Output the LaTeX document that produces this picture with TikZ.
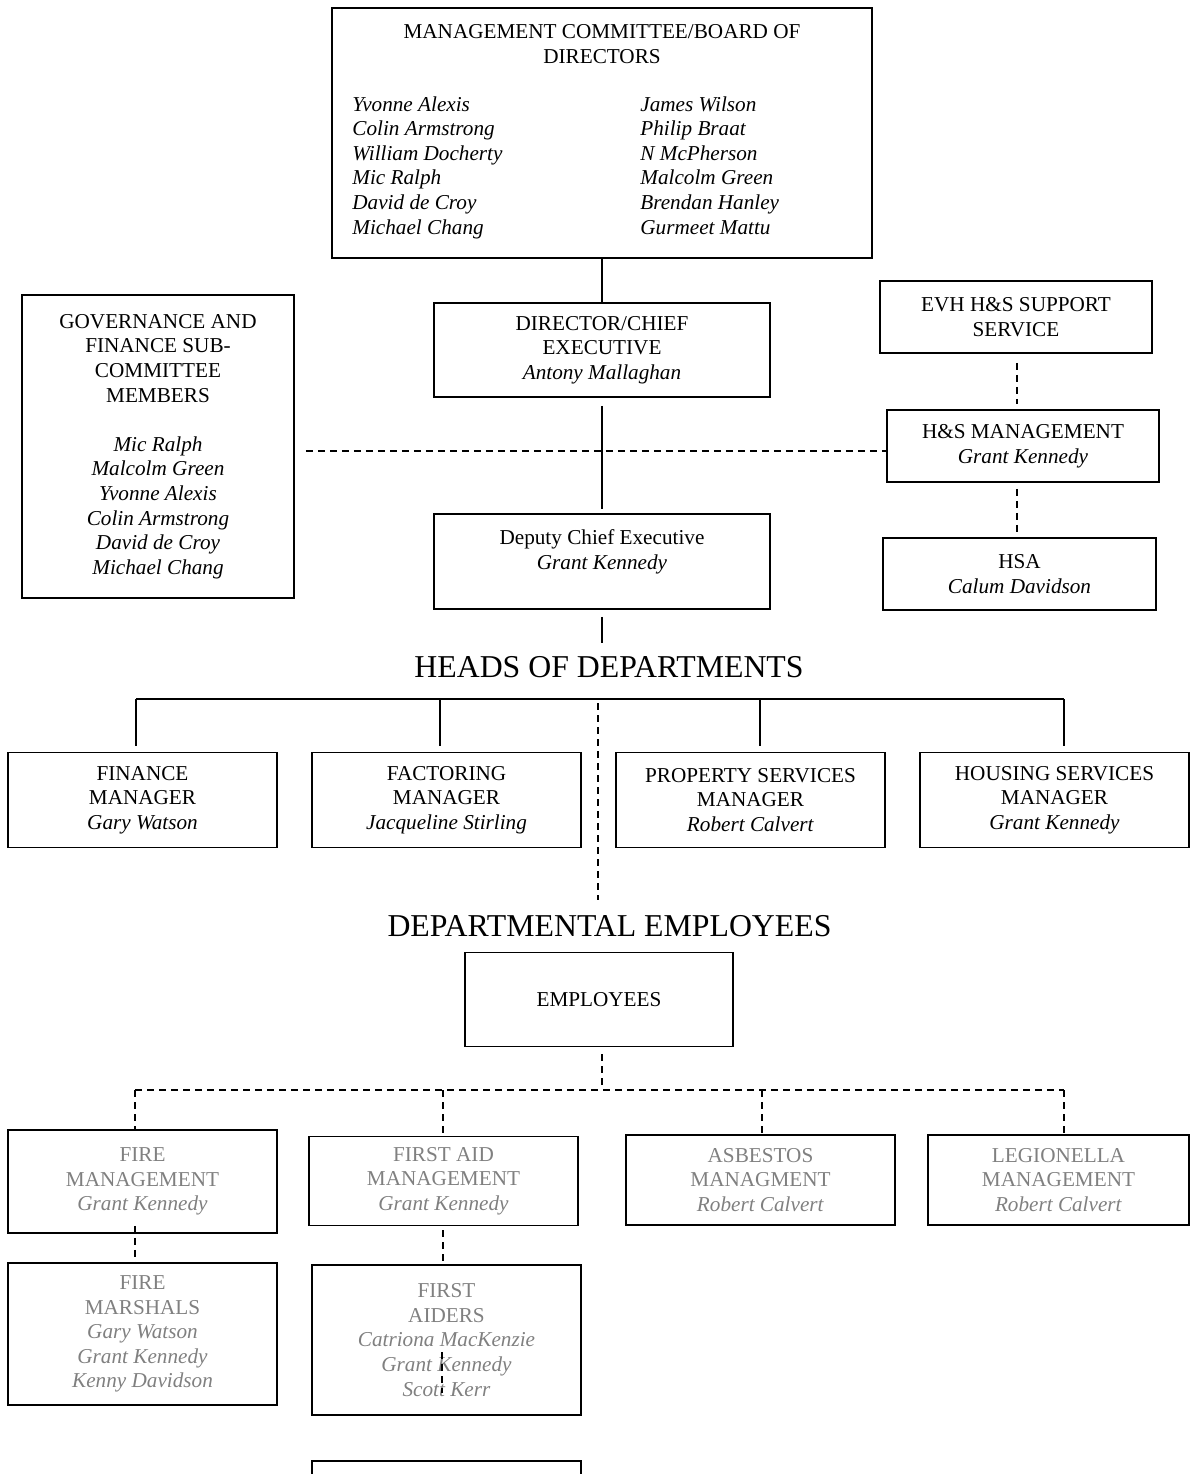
\documentclass[tikz,border=0pt]{standalone}
\usepackage{fontspec}
\setmainfont{Liberation Serif}
\usepackage{xcolor}
\definecolor{mygrey}{RGB}{128,128,128}
\newcommand{\bodyfont}{\fontsize{10.6}{12.3}\selectfont}
\tikzstyle{orgbox}=[draw, rectangle, line width=0.9pt, align=center, inner sep=2pt]
\tikzstyle{deptbox}=[orgbox, minimum width=134.5pt, minimum height=47.5pt]
\tikzstyle{greybox}=[orgbox, text=mygrey, minimum width=134.5pt]
\tikzstyle{names}=[align=left, anchor=north west, inner sep=0pt, font=\bodyfont\itshape]
\tikzstyle{bigtitle}=[font=\fontsize{15.9}{19}\selectfont, inner sep=0pt]
\tikzstyle{connect}=[line width=0.9pt]
\tikzstyle{connect dashed}=[connect, dash pattern=on 3.5pt off 2.5pt]

\begin{document}
\begin{tikzpicture}[
    x=0.5pt, y=-0.5pt,
    font=\bodyfont]
\useasboundingbox (0,0) rectangle (1190,1474);
\clip (0,0) rectangle (1190,1474);

% board and chief executive
\node[orgbox, minimum width=270pt, minimum height=125pt] (board) at (602,133) {};
\node[align=center, inner sep=0pt] (board_title) at (602,44) {MANAGEMENT COMMITTEE/BOARD OF\\DIRECTORS};
\node[names] (board_left) at (352,96) {Yvonne Alexis\\Colin Armstrong\\William Docherty\\Mic Ralph\\David de Croy\\Michael Chang};
\node[names] (board_right) at (640,96) {James Wilson\\Philip Braat\\N McPherson\\Malcolm Green\\Brendan Hanley\\Gurmeet Mattu};

\node[orgbox, minimum width=136pt, minimum height=151.5pt] (governance) at (158,446.5) {GOVERNANCE AND\\FINANCE SUB-\\COMMITTEE\\MEMBERS\\[12.3pt]\textit{Mic Ralph}\\\textit{Malcolm Green}\\\textit{Yvonne Alexis}\\\textit{Colin Armstrong}\\\textit{David de Croy}\\\textit{Michael Chang}};

\node[orgbox, minimum width=168pt, minimum height=47pt] (director) at (602,350) {DIRECTOR/CHIEF\\EXECUTIVE\\\textit{Antony Mallaghan}};
\node[orgbox, minimum width=168pt, minimum height=47.5pt] (deputy) at (602,561.5) {};
\node[align=center, inner sep=0pt] (deputy_text) at (602,552) {Deputy Chief Executive\\\textit{Grant Kennedy}};

% health and safety side
\node[orgbox, minimum width=136pt, minimum height=36pt] (evh) at (1016,317) {EVH H\&S SUPPORT\\SERVICE};
\node[orgbox, minimum width=136pt, minimum height=36pt] (hsm) at (1023,446) {H\&S MANAGEMENT\\\textit{Grant Kennedy}};
\node[orgbox, minimum width=136.5pt, minimum height=36pt] (hsa) at (1019.5,574) {HSA\\\textit{Calum Davidson}};

% heads of departments
\node[bigtitle] (heads) at (609,667) {HEADS OF DEPARTMENTS};
\node[deptbox] (finance) at (142.5,800) {FINANCE\\MANAGER\\\textit{Gary Watson}};
\node[deptbox] (factoring) at (446.5,800) {FACTORING\\MANAGER\\\textit{Jacqueline Stirling}};
\node[deptbox] (property) at (750.5,800) {PROPERTY SERVICES\\MANAGER\\\textit{Robert Calvert}};
\node[deptbox] (housing) at (1054.5,800) {HOUSING SERVICES\\MANAGER\\\textit{Grant Kennedy}};

% employees
\node[bigtitle] (deptemp) at (609.5,926) {DEPARTMENTAL EMPLOYEES};
\node[orgbox, minimum width=134pt, minimum height=47pt] (employees) at (599,999.5) {EMPLOYEES};

\node[greybox, minimum height=51.5pt] (firemgmt) at (142.5,1181.5) {FIRE\\MANAGEMENT\\\textit{Grant Kennedy}};
\node[greybox, minimum height=44.5pt] (firstaidmgmt) at (443.5,1181) {FIRST AID\\MANAGEMENT\\\textit{Grant Kennedy}};
\node[greybox, minimum height=45pt] (asbestos) at (760.5,1180) {ASBESTOS\\MANAGMENT\\\textit{Robert Calvert}};
\node[greybox, minimum width=130.5pt, minimum height=45pt] (legionella) at (1058.5,1180) {LEGIONELLA\\MANAGEMENT\\\textit{Robert Calvert}};
\node[greybox, minimum height=71pt] (marshals) at (142.5,1334) {FIRE\\MARSHALS\\\textit{Gary Watson}\\\textit{Grant Kennedy}\\\textit{Kenny Davidson}};
\node[greybox, minimum height=75pt] (firstaiders) at (446.5,1340) {FIRST\\AIDERS\\\textit{Catriona MacKenzie}\\\textit{Grant Kennedy}\\\textit{Scott Kerr}};
\node[orgbox, minimum width=134.5pt, minimum height=75pt] (nextbox) at (446.5,1536) {};

% bars of the tree
\coordinate (hb_finance) at (136,699);
\coordinate (hb_factoring) at (440,699);
\coordinate (hb_property) at (760,699);
\coordinate (hb_housing) at (1064,699);
\coordinate (hb_mid) at (598,699);
\coordinate (eb_mid) at (602,1090);
\coordinate (eb_firemgmt) at (135,1090);
\coordinate (eb_firstaidmgmt) at (443,1090);
\coordinate (eb_asbestos) at (762,1090);
\coordinate (eb_legionella) at (1064,1090);
\coordinate (hs_axis) at (1017,0);

\begin{scope}[connect]
    \draw (board.south) -- (director.north);
    \draw[shorten <=4pt, shorten >=2pt] (director.south) -- (deputy.north);
    \draw[shorten <=3.5pt, shorten >=6.5pt] (deputy.south) -- (deputy.south |- heads.north);

    \draw (hb_finance) -- (hb_housing);
    \foreach \d in {finance,factoring,property,housing}{
        \draw[shorten >=3pt] (hb_\d) -- (hb_\d |- \d.north);
    }
    \draw[connect dashed, shorten <=2pt, shorten >=7.5pt] (hb_mid) -- (hb_mid |- deptemp.north);

    % health and safety links
    \draw[connect dashed, shorten <=5.5pt] ([yshift=-2.25pt]governance.east) -- ([yshift=-2.5pt]hsm.west);
    \draw[connect dashed, shorten <=4.5pt, shorten >=2.5pt] (hs_axis |- evh.south) -- (hs_axis |- hsm.north);
    \draw[connect dashed, shorten <=3pt, shorten >=1.5pt] (hs_axis |- hsm.south) -- (hs_axis |- hsa.north);

    % employees tree
    \draw[connect dashed, shorten <=3.5pt] (eb_mid |- employees.south) -- (eb_mid);
    \draw[connect dashed] (eb_firemgmt) -- (eb_legionella);
    \foreach \d in {firemgmt,firstaidmgmt,asbestos,legionella}{
        \draw[connect dashed] (eb_\d) -- (eb_\d |- \d.north);
    }
    \draw[connect dashed, shorten <=-4pt] (eb_firemgmt |- firemgmt.south) -- (eb_firemgmt |- marshals.north);
    \draw[connect dashed, shorten <=2pt] (eb_firstaidmgmt |- firstaidmgmt.south) -- (eb_firstaidmgmt |- firstaiders.north);
    \draw[connect dashed] ([xshift=-2.25pt,yshift=-6pt]firstaiders.center) -- ([xshift=-2.25pt,yshift=-26.5pt]firstaiders.center);
\end{scope}

\end{tikzpicture}
\end{document}
